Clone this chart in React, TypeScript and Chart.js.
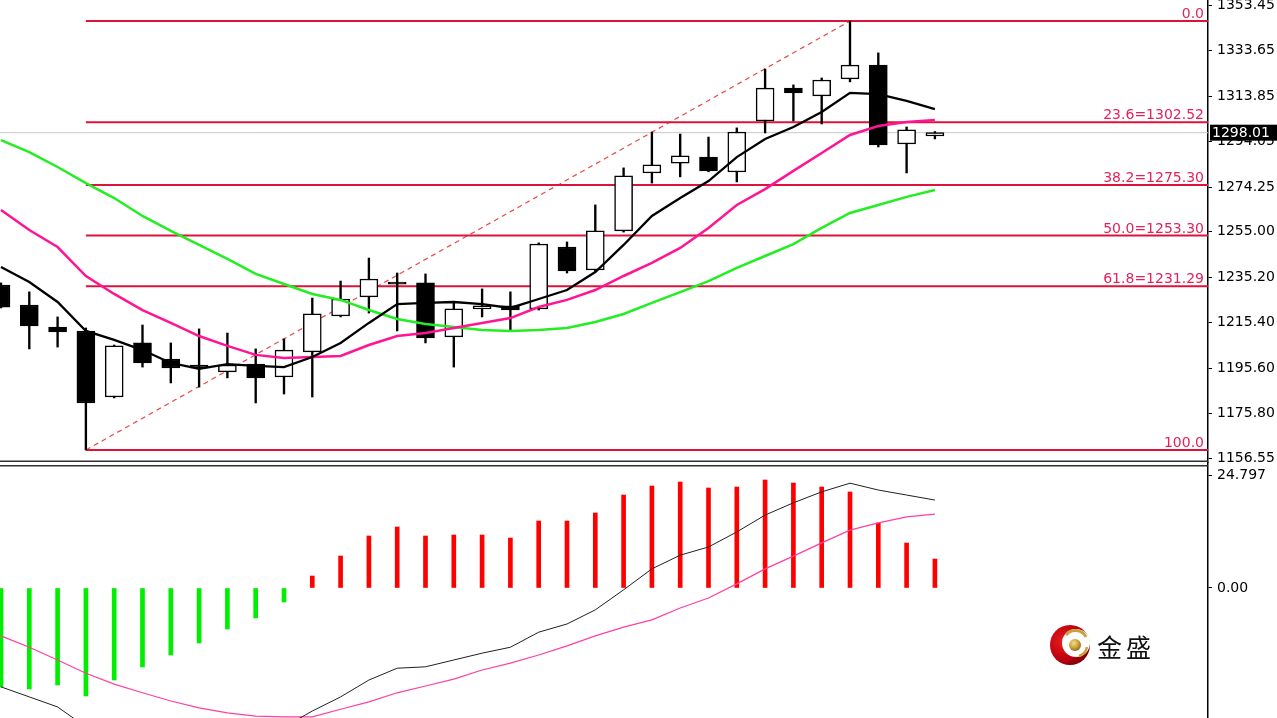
import React, { useEffect, useRef } from 'react';
import { Chart, registerables } from 'chart.js';

Chart.register(...registerables);

// ---------- Price data (daily candles) ----------
const OPEN = [1231.8, 1223.1, 1213.5, 1211.8, 1183.1, 1206.6, 1199.6, 1197.0, 1194.0, 1197.4, 1191.8, 1202.7, 1218.3, 1226.6, 1233.1, 1232.7, 1209.2, 1221.4, 1222.7, 1221.4, 1248.3, 1238.3, 1255.3, 1280.5, 1284.8, 1287.4, 1280.9, 1303.1, 1317.4, 1314.0, 1321.4, 1327.4, 1293.1, 1296.6];
const HIGH = [1232.7, 1228.8, 1217.9, 1213.1, 1205.7, 1214.4, 1206.6, 1212.7, 1210.9, 1204.0, 1208.3, 1226.1, 1233.5, 1243.5, 1237.0, 1236.6, 1224.0, 1230.1, 1228.8, 1250.1, 1250.5, 1266.6, 1282.7, 1298.3, 1297.4, 1296.1, 1300.1, 1325.7, 1318.8, 1321.8, 1346.55, 1332.7, 1300.5, 1298.5];
const LOW = [1221.8, 1204.0, 1204.8, 1160.05, 1182.7, 1196.1, 1189.2, 1187.4, 1191.4, 1180.5, 1184.4, 1183.1, 1217.9, 1219.6, 1211.8, 1206.6, 1196.1, 1217.9, 1212.2, 1220.9, 1237.0, 1237.9, 1254.8, 1276.1, 1278.8, 1281.0, 1276.6, 1297.9, 1303.1, 1301.8, 1320.1, 1291.8, 1280.5, 1295.3];
const CLOSE = [1222.2, 1214.0, 1211.4, 1180.5, 1205.3, 1197.9, 1195.7, 1195.7, 1197.0, 1191.4, 1203.5, 1219.2, 1225.7, 1234.4, 1232.2, 1208.8, 1221.4, 1222.7, 1220.9, 1249.6, 1237.9, 1255.3, 1279.2, 1284.0, 1287.9, 1281.4, 1298.3, 1317.4, 1315.3, 1320.9, 1327.4, 1292.7, 1299.2, 1298.01];

// ---------- Moving averages ----------
const MA_FAST = [1239.6, 1233.1, 1224.4, 1211.8, 1207.9, 1203.5, 1197.9, 1195.3, 1197.4, 1196.6, 1196.1, 1200.5, 1206.6, 1215.3, 1223.5, 1224.0, 1224.4, 1223.5, 1221.8, 1225.7, 1229.6, 1237.4, 1249.2, 1261.8, 1269.6, 1277.0, 1287.4, 1295.3, 1300.5, 1307.0, 1315.3, 1314.8, 1311.8, 1308.3];
const MA_MID = [1264.4, 1255.7, 1248.3, 1235.7, 1227.9, 1220.9, 1215.3, 1209.6, 1205.3, 1201.4, 1200.1, 1200.5, 1200.9, 1205.7, 1209.6, 1210.9, 1213.1, 1215.3, 1217.4, 1222.2, 1225.3, 1229.6, 1235.7, 1241.4, 1247.9, 1256.6, 1266.6, 1273.5, 1281.4, 1289.2, 1297.0, 1300.9, 1302.7, 1303.5];
const MA_SLOW = [1294.8, 1289.6, 1283.1, 1276.1, 1269.6, 1261.8, 1255.3, 1249.2, 1243.1, 1236.6, 1232.2, 1227.9, 1225.3, 1220.9, 1217.0, 1214.8, 1213.5, 1212.2, 1211.8, 1212.2, 1213.1, 1215.7, 1219.2, 1224.0, 1228.7, 1233.5, 1239.2, 1244.4, 1249.6, 1256.6, 1263.1, 1266.6, 1270.1, 1273.1];

// ---------- Fibonacci retracement ----------
const FIB_LEVELS = [1346.55, 1302.52, 1275.30, 1253.30, 1231.29, 1160.05];
const FIB_LABELS = ['0.0', '23.6=1302.52', '38.2=1275.30', '50.0=1253.30', '61.8=1231.29', '100.0'];
const SWING_LOW_INDEX = 3;
const SWING_HIGH_INDEX = 30;
const SWING_LOW = 1160.05;
const SWING_HIGH = 1346.55;
const CURRENT_PRICE = 1298.01;

// ---------- Axis ticks ----------
const PRICE_TICKS = [1156.55, 1175.80, 1195.60, 1215.40, 1235.20, 1255.00, 1274.25, 1294.05, 1313.85, 1333.65, 1353.45];
const MACD_TICKS = [0, 24.797];
const MACD_TICK_LABELS = ['0.00', '24.797'];

// ---------- MACD ----------
const MACD_HIST = [-21.72, -22.16, -21.29, -23.7, -20.19, -17.34, -14.7, -12.07, -9.0, -6.58, -3.07, 2.63, 7.02, 11.41, 13.39, 11.41, 11.63, 11.63, 10.97, 14.7, 14.7, 16.46, 20.41, 22.38, 23.26, 21.94, 22.16, 23.7, 23.04, 22.16, 21.07, 14.26, 9.87, 6.36];
const MACD_LINE = [-21.7, -23.9, -26.1, -30.5, -33.4, -35.6, -36.9, -37.3, -36.7, -34.7, -30.5, -27.0, -23.9, -20.2, -17.6, -17.3, -15.8, -14.3, -13.0, -9.7, -7.9, -4.8, -0.4, 4.2, 7.2, 9.0, 12.3, 16.0, 18.7, 21.1, 23.0, 21.5, 20.4, 19.3];
const MACD_SIGNAL = [-10.5, -13.0, -15.8, -18.7, -21.1, -23.0, -24.8, -26.3, -27.4, -28.1, -28.3, -28.3, -26.6, -25.0, -23.0, -21.5, -20.0, -18.0, -16.5, -14.7, -12.7, -10.5, -8.6, -7.0, -4.4, -2.2, 0.9, 4.2, 7.0, 9.9, 12.7, 14.3, 15.6, 16.2];

// ---------- Layout ----------
const X_MIN = -0.035;
const X_MAX = 42.65;
const AXIS_W = 69;
const PRICE_MAX = 1355.7;
const PRICE_MIN = 1154.83;
const MACD_MAX = 27.65;
const MACD_MIN = -28.53;
const FONT = '"DejaVu Sans", Verdana, sans-serif';
const TICK_SIZE = 14;

const fitAxis = (s: any) => {
  s.width = AXIS_W;
  s.paddingTop = 0;
  s.paddingBottom = 0;
};

export default function App() {
  const mainRef = useRef<HTMLCanvasElement>(null);
  const macdRef = useRef<HTMLCanvasElement>(null);

  useEffect(() => {
    document.body.style.margin = '0';
    document.body.style.background = '#ffffff';
    const idx = OPEN.map((_, i) => i);
    const pts = (arr: number[]) => arr.map((v, i) => ({ x: i, y: v }));

    const fibSets = FIB_LEVELS.map((lv) => ({
      type: 'line' as const,
      data: [{ x: SWING_LOW_INDEX, y: lv }, { x: X_MAX, y: lv }],
      borderColor: '#DC143C',
      borderWidth: 2,
      pointRadius: 0,
      order: 3,
    }));

    const mainDecor = {
      id: 'mainDecor',
      afterDatasetsDraw(chart: any) {
        const { ctx, chartArea, scales } = chart;
        const y = scales.y;
        ctx.save();
        ctx.font = `${TICK_SIZE}px ${FONT}`;
        ctx.fillStyle = '#E0245A';
        ctx.textAlign = 'right';
        ctx.textBaseline = 'alphabetic';
        FIB_LEVELS.forEach((lv, k) => {
          ctx.fillText(FIB_LABELS[k], chartArea.right - 4, y.getPixelForValue(lv) - 3);
        });
        ctx.restore();
      },
      afterDraw(chart: any) {
        const { ctx, chartArea, scales } = chart;
        const y = scales.y;
        ctx.save();
        ctx.strokeStyle = '#303030';
        ctx.lineWidth = 1.5;
        ctx.beginPath();
        ctx.moveTo(0, chartArea.bottom - 0.75);
        ctx.lineTo(chartArea.right, chartArea.bottom - 0.75);
        ctx.stroke();
        const py = y.getPixelForValue(CURRENT_PRICE);
        ctx.fillStyle = '#000';
        ctx.fillRect(chartArea.right + 2, py - 8, chart.width - chartArea.right - 2, 16);
        ctx.fillStyle = '#fff';
        ctx.font = `${TICK_SIZE}px ${FONT}`;
        ctx.textAlign = 'left';
        ctx.textBaseline = 'middle';
        ctx.fillText(CURRENT_PRICE.toFixed(2), chartArea.right + 4, py + 1);
        ctx.restore();
      },
    };

    const main = new Chart(mainRef.current as HTMLCanvasElement, {
      type: 'bar',
      data: {
        datasets: [
          { type: 'line', data: pts(MA_FAST), borderColor: '#000000', borderWidth: 2.3, pointRadius: 0, order: 0 },
          { type: 'line', data: pts(MA_MID), borderColor: '#FF1493', borderWidth: 2.5, pointRadius: 0, order: 0 },
          { type: 'line', data: pts(MA_SLOW), borderColor: '#22EE22', borderWidth: 2.5, pointRadius: 0, order: 0 },
          {
            type: 'bar',
            data: idx.map((i) => ({ x: i, y: [OPEN[i], CLOSE[i]] })) as any,
            backgroundColor: idx.map((i) => (CLOSE[i] >= OPEN[i] ? '#ffffff' : '#000000')),
            borderColor: '#000000',
            borderWidth: 1.5,
            borderSkipped: false,
            barThickness: 18,
            grouped: false,
            order: 1,
          },
          {
            type: 'bar',
            data: idx.map((i) => ({ x: i, y: [LOW[i], HIGH[i]] })) as any,
            backgroundColor: '#000000',
            borderWidth: 0,
            barThickness: 1.7,
            grouped: false,
            order: 2,
          },
          ...fibSets,
          {
            type: 'line',
            data: [{ x: SWING_LOW_INDEX, y: SWING_LOW }, { x: SWING_HIGH_INDEX, y: SWING_HIGH }],
            borderColor: '#E84848',
            borderWidth: 1.2,
            borderDash: [5, 4],
            pointRadius: 0,
            order: 3,
          },
          {
            type: 'line',
            data: [{ x: X_MIN, y: CURRENT_PRICE }, { x: X_MAX, y: CURRENT_PRICE }],
            borderColor: '#C8C8C8',
            borderWidth: 1,
            pointRadius: 0,
            order: 5,
          },
        ] as any,
      },
      options: {
        animation: false,
        responsive: false,
        events: [],
        layout: { padding: { left: 0, right: 0, top: 0, bottom: 8 } },
        plugins: { legend: { display: false }, tooltip: { enabled: false } },
        scales: {
          x: { type: 'linear', display: false, min: X_MIN, max: X_MAX, offset: false },
          y: {
            position: 'right',
            min: PRICE_MIN,
            max: PRICE_MAX,
            afterBuildTicks: (s: any) => {
              s.ticks = PRICE_TICKS.map((v) => ({ value: v }));
            },
            afterFit: fitAxis,
            ticks: {
              autoSkip: false,
              padding: 5,
              color: '#000',
              font: { family: FONT, size: TICK_SIZE },
              callback: (v: any) => Number(v).toFixed(2),
            },
            grid: { drawOnChartArea: false, drawTicks: true, tickLength: 4, color: '#000', lineWidth: 1 },
            border: { display: true, color: '#000', width: 1.5 },
          },
        },
      } as any,
      plugins: [mainDecor],
    });

    const macdDecor = {
      id: 'macdDecor',
      afterDraw(chart: any) {
        const { ctx, chartArea } = chart;
        ctx.save();
        ctx.strokeStyle = '#303030';
        ctx.lineWidth = 1.5;
        ctx.beginPath();
        ctx.moveTo(0, chartArea.top + 3.75);
        ctx.lineTo(chartArea.right, chartArea.top + 3.75);
        ctx.stroke();
        ctx.restore();
      },
    };

    const macd = new Chart(macdRef.current as HTMLCanvasElement, {
      type: 'bar',
      data: {
        datasets: [
          { type: 'line', data: pts(MACD_LINE), borderColor: '#202020', borderWidth: 1, pointRadius: 0, order: 0 },
          { type: 'line', data: pts(MACD_SIGNAL), borderColor: '#FF3FA0', borderWidth: 1.2, pointRadius: 0, order: 0 },
          {
            type: 'bar',
            data: pts(MACD_HIST) as any,
            backgroundColor: MACD_HIST.map((v) => (v >= 0 ? '#FF0000' : '#00EE00')),
            borderWidth: 0,
            barThickness: 4,
            grouped: false,
            order: 1,
          },
        ] as any,
      },
      options: {
        animation: false,
        responsive: false,
        events: [],
        layout: { padding: 0 },
        plugins: { legend: { display: false }, tooltip: { enabled: false } },
        scales: {
          x: { type: 'linear', display: false, min: X_MIN, max: X_MAX, offset: false },
          y: {
            position: 'right',
            min: MACD_MIN,
            max: MACD_MAX,
            afterBuildTicks: (s: any) => {
              s.ticks = MACD_TICKS.map((v) => ({ value: v }));
            },
            afterFit: fitAxis,
            ticks: {
              autoSkip: false,
              padding: 5,
              color: '#000',
              font: { family: FONT, size: TICK_SIZE },
              callback: (v: any) => {
                const k = MACD_TICKS.indexOf(Number(v));
                return k >= 0 ? MACD_TICK_LABELS[k] : '';
              },
            },
            grid: { drawOnChartArea: false, drawTicks: true, tickLength: 4, color: '#000', lineWidth: 1 },
            border: { display: true, color: '#000', width: 1.5 },
          },
        },
      } as any,
      plugins: [macdDecor],
    });

    return () => {
      main.destroy();
      macd.destroy();
    };
  }, []);

  return (
    <div style={{ position: 'relative', width: 1277, height: 718, overflow: 'hidden', background: '#fff' }}>
      <canvas ref={mainRef} width={1277} height={470} style={{ position: 'absolute', left: 0, top: 0, width: 1277, height: 470 }} />
      <canvas ref={macdRef} width={1277} height={256} style={{ position: 'absolute', left: 0, top: 462, width: 1277, height: 256 }} />
      <svg width={44} height={44} viewBox="0 0 44 44" style={{ position: 'absolute', left: 1049, top: 623 }}>
        <defs>
          <radialGradient id="lgRed" cx="35%" cy="40%" r="65%">
            <stop offset="0%" stopColor="#E8201E" />
            <stop offset="70%" stopColor="#C00010" />
            <stop offset="100%" stopColor="#800008" />
          </radialGradient>
          <radialGradient id="lgGold" cx="40%" cy="35%" r="65%">
            <stop offset="0%" stopColor="#F4E08A" />
            <stop offset="60%" stopColor="#C9A23A" />
            <stop offset="100%" stopColor="#8F6E1E" />
          </radialGradient>
        </defs>
        <circle cx={21} cy={22} r={20} fill="url(#lgRed)" />
        <circle cx={27} cy={20} r={14} fill="#ffffff" />
        <path d="M17 12 A12 12 0 0 1 37 14" stroke="#C9A23A" strokeWidth={3} fill="none" />
        <path d="M38 24 A12 12 0 0 1 30 33" stroke="#C9A23A" strokeWidth={2.5} fill="none" />
        <circle cx={26} cy={22} r={6} fill="url(#lgGold)" />
      </svg>
      <span
        style={{
          position: 'absolute',
          left: 1097,
          top: 629,
          fontFamily: '"Noto Sans CJK SC", sans-serif',
          fontSize: 25,
          lineHeight: '34px',
          letterSpacing: 4,
          color: '#111',
          whiteSpace: 'nowrap',
        }}
      >
        金盛
      </span>
    </div>
  );
}
